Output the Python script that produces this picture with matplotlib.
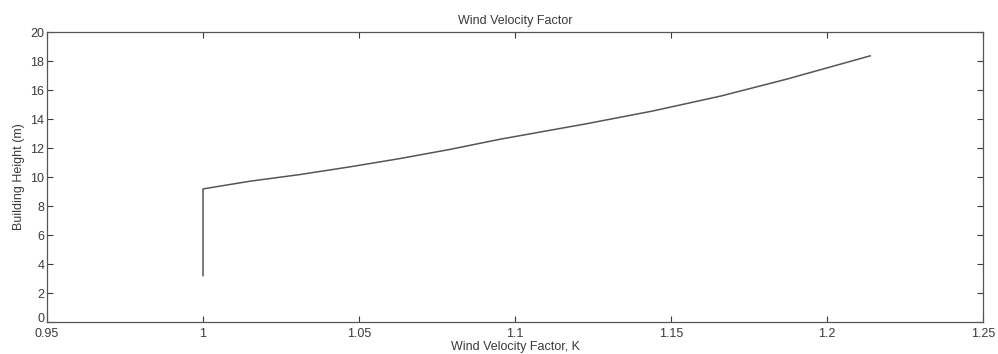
import matplotlib.pyplot as plt

# wind velocity factor K against building height
k_values = [1.0, 1.0, 1.015, 1.031, 1.047, 1.063, 1.079, 1.095,
            1.123, 1.144, 1.166, 1.187, 1.2138]
heights = [3.2, 9.18, 9.71, 10.17, 10.7, 11.27, 11.9, 12.6,
           13.68, 14.55, 15.59, 16.75, 18.36]

x_ticks = [0.95, 1.0, 1.05, 1.1, 1.15, 1.2, 1.25]
x_tick_labels = ["0.95", "1", "1.05", "1.1", "1.15", "1.2", "1.25"]
y_ticks = list(range(0, 21, 2))

plt.rcParams['font.family'] = ['Liberation Sans', 'DejaVu Sans']
ink = '#3a3a3a'

fig = plt.figure(figsize=(9.98, 3.54), dpi=100)
ax = fig.add_axes([0.0471, 0.0904, 0.938, 0.819])

ax.plot(k_values, heights, color='#555555', linewidth=1.1)

ax.set_xlim(0.95, 1.25)
ax.set_ylim(0, 20)
ax.set_xticks(x_ticks)
ax.set_xticklabels(x_tick_labels)
ax.set_yticks(y_ticks)

ax.tick_params(direction='in', top=True, right=True, length=4, width=0.8,
               colors=ink, labelsize=9)
ax.tick_params(axis='x', pad=4)
ax.tick_params(axis='y', pad=2)
# sit the "0" on the axis line so it clears the 0.95 label
ax.get_yticklabels()[0].set_va('baseline')

for s in ax.spines.values():
    s.set_color('#555555')
    s.set_linewidth(0.9)

ax.set_title("Wind Velocity Factor", fontsize=9, color=ink, pad=6)
ax.set_xlabel("Wind Velocity Factor, K", fontsize=9, color=ink, labelpad=1)
ax.set_ylabel("Building Height (m)", fontsize=9, color=ink, labelpad=4)

fig.savefig("out.png", dpi=100)
